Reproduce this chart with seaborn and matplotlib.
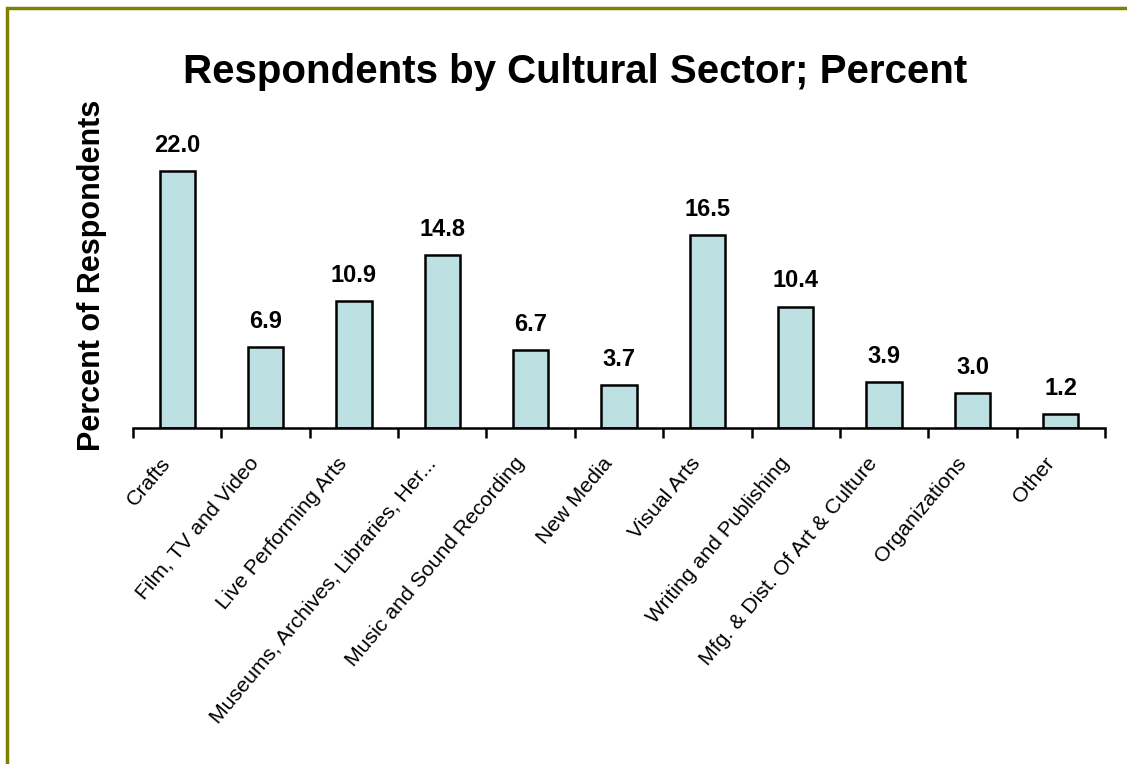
import matplotlib
matplotlib.use("Agg")
import matplotlib.pyplot as plt
from matplotlib.patches import Rectangle
from matplotlib.transforms import ScaledTranslation
import numpy as np
import seaborn as sns

categories = [
    "Crafts",
    "Film, TV and Video",
    "Live Performing Arts",
    "Museums, Archives, Libraries, Her...",
    "Music and Sound Recording",
    "New Media",
    "Visual Arts",
    "Writing and Publishing",
    "Mfg. & Dist. Of Art & Culture",
    "Organizations",
    "Other",
]
percent = [22.0, 6.9, 10.9, 14.8, 6.7, 3.7, 16.5, 10.4, 3.9, 3.0, 1.2]

sns.set_theme(style="white")
plt.rcParams["font.family"] = ["Liberation Sans", "DejaVu Sans"]
plt.rcParams["text.color"] = "black"
plt.rcParams["xtick.color"] = "black"
plt.rcParams["axes.labelcolor"] = "black"

W, H = 1127, 764
fig = plt.figure(figsize=(W / 100, H / 100), dpi=100)
fig.patch.set_facecolor("white")

# olive frame along the left and top edges
fig.patches.append(Rectangle((7 / W, -0.1), 1.2, 1 - 8 / H + 0.1, transform=fig.transFigure,
                             fill=False, edgecolor="#808000", linewidth=2.5, zorder=0))

left, right = 133 / W, 1105 / W
bottom = 1 - 428 / H
ymax = 24.0
px_per_unit = 257 / 22.0
height = ymax * px_per_unit / H
ax = fig.add_axes([left, bottom, right - left, height])

sns.barplot(x=categories, y=percent, ax=ax, color="#BDE0E3", saturation=1,
            edgecolor="black", linewidth=1.8, width=0.4)

ax.set_xlim(-0.5, len(categories) - 0.5)
ax.set_ylim(0, ymax)

for i, v in enumerate(percent):
    ax.text(i, v + 1.2, f"{v:.1f}", ha="center", va="bottom",
            fontsize=17, fontweight="bold", color="black")

for s in ["top", "right", "left"]:
    ax.spines[s].set_visible(False)
ax.spines["bottom"].set_color("black")
ax.spines["bottom"].set_linewidth(1.8)
ax.set_yticks([])
ax.set_ylabel("")

ax.set_xticks(range(len(categories)))
ax.set_xticklabels(categories, rotation=50, ha="right", va="center",
                   rotation_mode="anchor", fontsize=15.3, color="black")
ax.tick_params(axis="x", which="major", length=0, pad=23)
shift = ScaledTranslation(-10 / 100, 0, fig.dpi_scale_trans)
for lbl in ax.get_xticklabels():
    lbl.set_transform(lbl.get_transform() + shift)
ax.set_xticks(np.arange(-0.5, len(categories), 1.0), minor=True)
ax.tick_params(axis="x", which="minor", length=7, width=1.8, direction="out",
               color="black", bottom=True)
ax.set_xlabel("")

fig.text(575 / W, 1 - 72 / H, "Respondents by Cultural Sector; Percent",
         ha="center", va="center", fontsize=29, fontweight="bold", color="black")
fig.text(92 / W, 1 - 275 / H, "Percent of Respondents", rotation=90,
         ha="center", va="center", fontsize=22, fontweight="bold", color="black")

fig.savefig("out.png", dpi=100, facecolor="white")
